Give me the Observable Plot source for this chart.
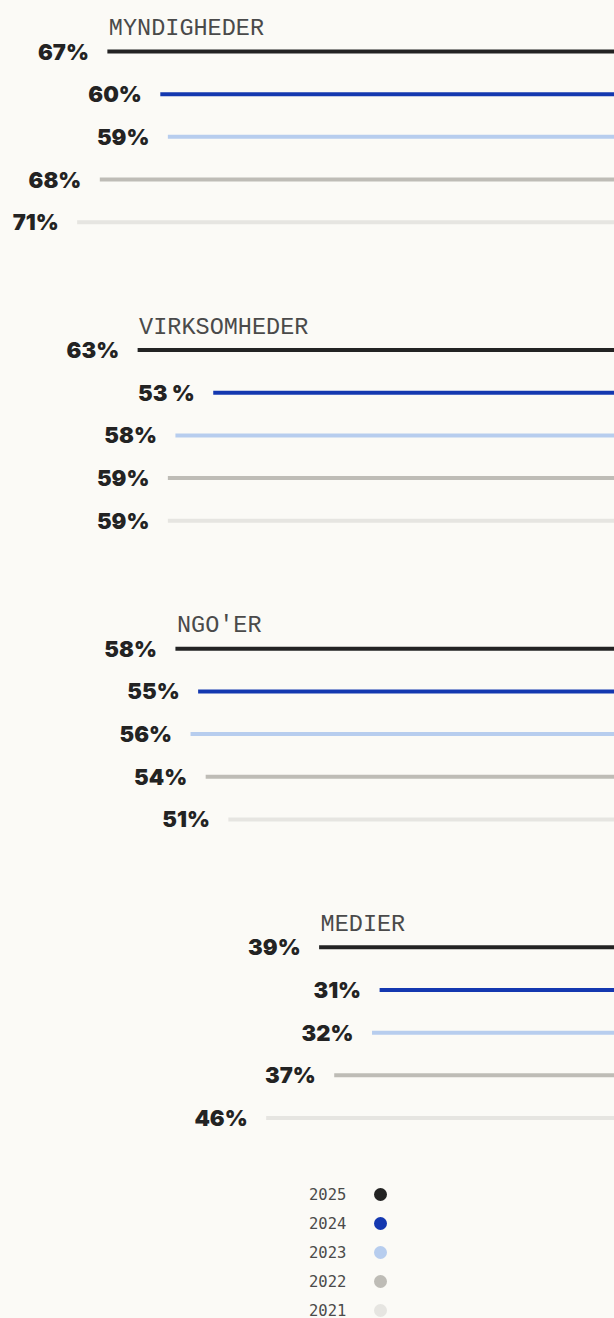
<!DOCTYPE html>
<html>
<head>
<meta charset="utf-8">
<script src="https://cdn.jsdelivr.net/npm/d3@7"></script>
<script src="https://cdn.jsdelivr.net/npm/@observablehq/plot@0.6"></script>
<style>
  html, body { margin: 0; padding: 0; background: #fbfaf6; }
  #chart svg { display: block; background: #fbfaf6; }
  #legend { width: 614px; font-family: "DejaVu Sans Mono", "Liberation Mono", monospace; font-size: 15.5px; color: #4a4a4a; }
  .row { height: 29px; display: flex; align-items: center; }
  .yr { margin-left: 309px; width: 65px; }
  .dot { width: 13px; height: 13px; border-radius: 50%; }
</style>
</head>
<body>
<div id="chart"></div>
<div id="legend"></div>
<script>
const categories = ["MYNDIGHEDER", "VIRKSOMHEDER", "NGO'ER", "MEDIER"];
const years = ["2025", "2024", "2023", "2022", "2021"];
const colors = ["#232323", "#1438b0", "#b7cdee", "#bebcb6", "#e6e5e1"];
const myndigheder = [67, 60, 59, 68, 71];
const virksomheder = [63, 53, 58, 59, 59];
const ngoer = [58, 55, 56, 54, 51];
const medier = [39, 31, 32, 37, 46];
const valueLabels = [
  ["67%", "60%", "59%", "68%", "71%"],
  ["63%", "53 %", "58%", "59%", "59%"],
  ["58%", "55%", "56%", "54%", "51%"],
  ["39%", "31%", "32%", "37%", "46%"]
];
const series = [myndigheder, virksomheder, ngoer, medier];

const rows = [];
series.forEach((vals, g) => {
  vals.forEach((v, i) => {
    rows.push({cat: categories[g], year: years[i], value: v, label: valueLabels[g][i], pos: g * 7 + i});
  });
});
const titles = categories.map((c, g) => ({cat: c, value: series[g][0], pos: g * 7 - 0.56}));

const plot = Plot.plot({
  width: 614,
  height: 1170,
  margin: 0,
  style: {background: "#fbfaf6", overflow: "visible"},
  x: {domain: [0, 81.2], range: [614, 0], axis: null},
  y: {domain: [0, 25], range: [51, 1117.5], axis: null},
  color: {domain: years, range: colors},
  marks: [
    Plot.ruleY(rows, {x1: "value", x2: 0, y: "pos", stroke: "year", strokeWidth: 4}),
    Plot.text(rows, {x: "value", y: "pos", text: "label", dx: -19, dy: 1, textAnchor: "end",
      fill: "#232323", fontSize: 22, fontWeight: 900, fontFamily: "Inter, sans-serif",
      style: "letter-spacing:-1.6px"}),
    Plot.text(titles, {x: "value", y: "pos", text: "cat", dx: 1, textAnchor: "start",
      fill: "#4a4a4a", fontSize: 23.5, fontWeight: 300, fontFamily: "'Liberation Mono', monospace"})
  ]
});
document.getElementById("chart").appendChild(plot);

const legend = d3.select("#legend").style("padding-top", "10px");
years.forEach((y, i) => {
  const r = legend.append("div").attr("class", "row");
  r.append("span").attr("class", "yr").text(y);
  r.append("span").attr("class", "dot").style("background", colors[i]);
});
</script>
</body>
</html>
